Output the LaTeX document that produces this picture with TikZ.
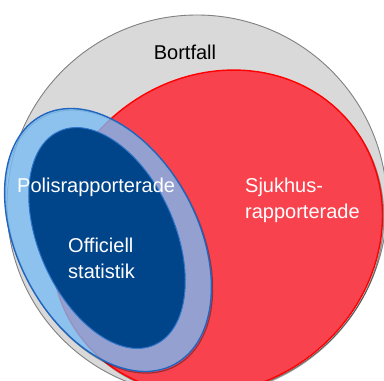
\documentclass[tikz,border=0pt]{standalone}
\usepackage{fontspec}
\setmainfont{Liberation Sans}
\definecolor{grayfill}{RGB}{217,217,217}
\definecolor{grayline}{RGB}{128,128,128}
\definecolor{redfill}{RGB}{248,67,78}
\definecolor{redline}{RGB}{255,0,0}
\definecolor{lightblue}{RGB}{120,188,245}
\definecolor{blueline}{RGB}{32,102,192}
\definecolor{darkblue}{RGB}{0,68,138}
\definecolor{innerline}{RGB}{46,117,201}
\begin{document}
\begin{tikzpicture}[x=1pt,y=1pt,
  allset/.style={fill=grayfill,draw=grayline,line width=0.9pt},
  hospset/.style={fill=redfill,draw=redline,line width=1.4pt},
  policeset/.style={fill=lightblue,fill opacity=0.78,draw=blueline,draw opacity=1,line width=1.4pt},
  officialset/.style={fill=darkblue,draw=innerline,line width=1pt},
  shadowline/.style={draw=black,draw opacity=0.35,line width=1.2pt},
  lbl/.style={font=\fontsize{20}{25}\selectfont,inner sep=0pt},
  whitelbl/.style={lbl,text=white}]
\useasboundingbox (0,0) rectangle (384,381);
\begin{scope}
\clip (0,0) rectangle (384,381);
% outer set
\draw[allset] (197,176) circle [radius=190];
% hospital-reported set
\draw[shadowline,shift={(1.2,-1.6)},rotate around={39:(217,149)}] (217,149) ellipse [x radius=172,y radius=155];
\draw[hospset,rotate around={39:(217,149)}] (217,149) ellipse [x radius=172,y radius=155];
% police-reported set
\draw[shadowline,shift={(1.2,-1.6)},rotate around={28:(108,141)}] (108,141) ellipse [x radius=90,y radius=141];
\draw[policeset,rotate around={28:(108,141)}] (108,141) ellipse [x radius=90,y radius=141];
% official statistics
\draw[officialset,rotate around={24:(107,143)}] (107,143) ellipse [x radius=68,y radius=117];
\end{scope}
\node[lbl,anchor=base] (bortfall) at (185,321) {Bortfall};
\node[whitelbl,anchor=base west] (polis) at (17,188.3) {Polisrapporterade};
\node[whitelbl,anchor=base west] (off1) at (68,128.3) {Officiell};
\node[whitelbl,anchor=base west] (off2) at (68,102.7) {statistik};
\node[whitelbl,anchor=base west] (sjuk1) at (245,188) {Sjukhus-};
\node[whitelbl,anchor=base west] (sjuk2) at (245,162.5) {rapporterade};
\end{tikzpicture}
\end{document}
